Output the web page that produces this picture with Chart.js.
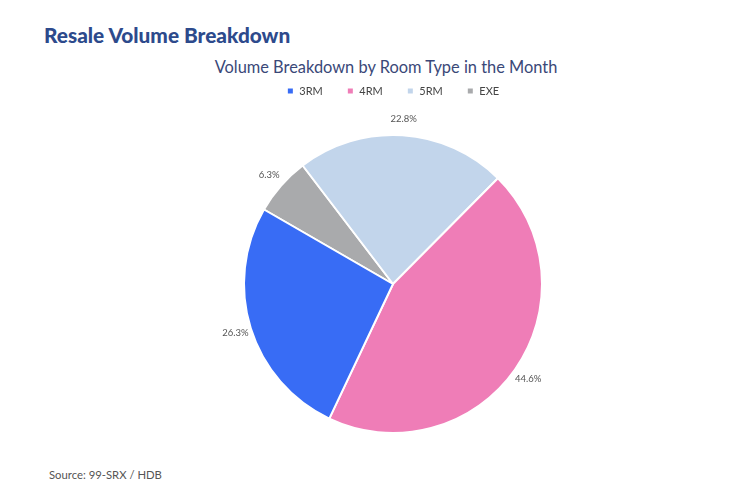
<!DOCTYPE html>
<html>
<head>
<meta charset="utf-8">
<script src="https://cdn.jsdelivr.net/npm/chart.js@4"></script>
<style>
  html, body { margin: 0; padding: 0; background: #fff; }
  body { width: 750px; height: 499px; position: relative; overflow: hidden; font-family: Lato, "Open Sans", sans-serif; }
  #header { position: absolute; left: 44px; top: 22px; font-size: 20.8px; font-weight: 900; color: #2d4a8c; white-space: nowrap; }
  #title { position: absolute; left: 36px; width: 700px; top: 57px; text-align: center; font-size: 16.4px; color: #3a4878; white-space: nowrap; }
  #source { position: absolute; left: 49px; top: 468px; font-size: 11.3px; color: #555; white-space: nowrap; }
  #c { position: absolute; left: 0; top: 0; }
</style>
</head>
<body>
<div id="header">Resale Volume Breakdown</div>
<div id="title">Volume Breakdown by Room Type in the Month</div>
<div id="source">Source: 99-SRX / HDB</div>
<canvas id="c" width="750" height="499"></canvas>
<script>
const categories = ['3RM', '4RM', '5RM', 'EXE'];
const shares = [26.3, 44.6, 22.8, 6.3];
const colors = ['#386cf5', '#ef7db7', '#c2d5eb', '#a9aaac'];

// Drawn counter-clockwise in the reference: feed the data reversed, legend reversed back.
const order = [3, 2, 1, 0];
const drawLabels = order.map(i => categories[i]);
const drawValues = order.map(i => shares[i]);
const drawColors = order.map(i => colors[i]);

const pctLabels = {
  id: 'pctLabels',
  afterDatasetsDraw(chart) {
    const ctx = chart.ctx;
    const meta = chart.getDatasetMeta(0);
    ctx.save();
    ctx.font = '9.5px Lato, "Open Sans", sans-serif';
    ctx.fillStyle = '#555';
    ctx.textAlign = 'center';
    ctx.textBaseline = 'middle';
    meta.data.forEach((arc, i) => {
      const p = arc.getProps(['x', 'y', 'startAngle', 'endAngle', 'outerRadius'], true);
      const mid = (p.startAngle + p.endAngle) / 2;
      const r = p.outerRadius + 16;
      ctx.fillText(chart.data.datasets[0].data[i].toFixed(1) + '%', p.x + Math.cos(mid) * r, p.y + Math.sin(mid) * r);
    });
    ctx.restore();
  }
};

new Chart(document.getElementById('c'), {
  type: 'pie',
  data: {
    labels: drawLabels,
    datasets: [{
      data: drawValues,
      backgroundColor: drawColors,
      borderColor: '#ffffff',
      borderWidth: 2,
      radius: 149
    }]
  },
  options: {
    responsive: false,
    devicePixelRatio: 1,
    animation: false,
    rotation: 300,
    events: [],
    layout: { padding: { top: 61.5, bottom: 37.5, left: 36, right: 0 } },
    plugins: {
      legend: {
        position: 'top',
        reverse: true,
        labels: {
          boxWidth: 7,
          boxHeight: 7,
          padding: 24,
          color: '#444',
          font: { family: 'Lato, "Open Sans", sans-serif', size: 11 }
        }
      },
      tooltip: { enabled: false },
      title: { display: false }
    }
  },
  plugins: [pctLabels]
});
</script>
</body>
</html>
